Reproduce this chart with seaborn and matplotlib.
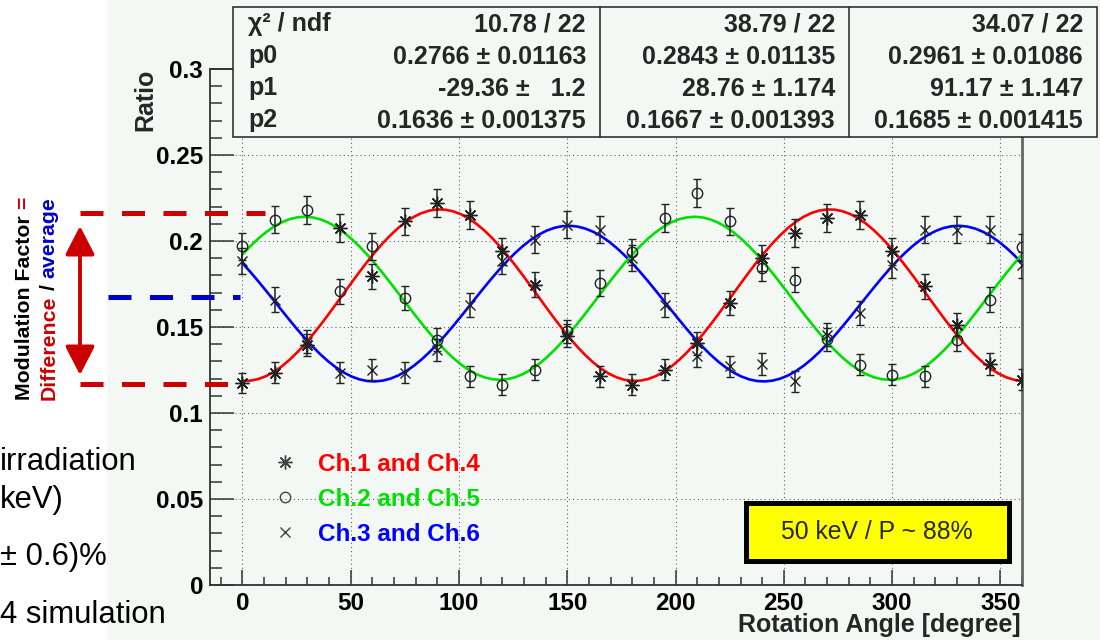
import numpy as np
import pandas as pd
import matplotlib
matplotlib.use("Agg")
import matplotlib.pyplot as plt
import seaborn as sns
from matplotlib.patches import Rectangle, FancyArrowPatch, ArrowStyle
from matplotlib.lines import Line2D
from matplotlib.ticker import MultipleLocator, FuncFormatter

# ---------------- data ----------------
angles = [0, 15, 30, 45, 60, 75, 90, 105, 120, 135, 150, 165, 180,
          195, 210, 225, 240, 255, 270, 285, 300, 315, 330, 345, 360]

ratio_ch14 = [0.1174, 0.1233, 0.1397, 0.2076, 0.1795, 0.2114, 0.2221, 0.2153, 0.1940,
              0.1746, 0.1450, 0.1213, 0.1165, 0.1252, 0.1405, 0.1640, 0.1900, 0.2047,
              0.2134, 0.2153, 0.1940, 0.1736, 0.1514, 0.1285, 0.1194]
err_ch14 = [0.0060, 0.0061, 0.0065, 0.0079, 0.0074, 0.0080, 0.0082, 0.0081, 0.0077,
            0.0073, 0.0066, 0.0061, 0.0059, 0.0062, 0.0065, 0.0070, 0.0076, 0.0079,
            0.0080, 0.0081, 0.0077, 0.0073, 0.0068, 0.0062, 0.0060]

ratio_ch25 = [0.1969, 0.2124, 0.2180, 0.1707, 0.1969, 0.1669, 0.1426, 0.1213, 0.1165,
              0.1252, 0.1475, 0.1756, 0.1936, 0.2134, 0.2279, 0.2114, 0.1843, 0.1775,
              0.1428, 0.1281, 0.1223, 0.1213, 0.1426, 0.1659, 0.1963]
err_ch25 = [0.0077, 0.0080, 0.0081, 0.0072, 0.0077, 0.0071, 0.0066, 0.0061, 0.0059,
            0.0062, 0.0067, 0.0073, 0.0077, 0.0080, 0.0083, 0.0080, 0.0075, 0.0073,
            0.0066, 0.0062, 0.0061, 0.0061, 0.0066, 0.0071, 0.0077]

ratio_ch36 = [0.1882, 0.1659, 0.1415, 0.1233, 0.1252, 0.1233, 0.1368, 0.1630, 0.1882,
              0.2008, 0.2095, 0.2066, 0.1900, 0.1630, 0.1330, 0.1271, 0.1285, 0.1184,
              0.1455, 0.1581, 0.1862, 0.2066, 0.2066, 0.2066, 0.1862]
err_ch36 = [0.0075, 0.0071, 0.0065, 0.0061, 0.0062, 0.0061, 0.0064, 0.0070, 0.0075,
            0.0078, 0.0080, 0.0079, 0.0076, 0.0070, 0.0063, 0.0062, 0.0062, 0.0060,
            0.0066, 0.0069, 0.0075, 0.0079, 0.0079, 0.0079, 0.0075]

series_labels = ["Ch.1 and Ch.4", "Ch.2 and Ch.5", "Ch.3 and Ch.6"]

# fit results (stat boxes, left to right) : f = p2*(1+p0*cos(2(x-p1)))
fit_series = ["Ch.3 and Ch.6", "Ch.2 and Ch.5", "Ch.1 and Ch.4"]
p0_vals = [0.2766, 0.2843, 0.2961]
p1_vals = [-29.36, 28.76, 91.17]
p2_vals = [0.1636, 0.1667, 0.1685]
stat_chi2 = ["10.78 / 22", "38.79 / 22", "34.07 / 22"]
stat_p0 = ["0.2766 \u00b1 0.01163", "0.2843 \u00b1 0.01135", "0.2961 \u00b1 0.01086"]
stat_p1 = ["-29.36 \u00b1   1.2", "28.76 \u00b1 1.174", "91.17 \u00b1 1.147"]
stat_p2 = ["0.1636 \u00b1 0.001375", "0.1667 \u00b1 0.001393", "0.1685 \u00b1 0.001415"]
stat_names = ["\u03c7\u00b2 / ndf", "p0", "p1", "p2"]

x_ticks = [0, 50, 100, 150, 200, 250, 300, 350]
y_ticks = [0, 0.05, 0.1, 0.15, 0.2, 0.25, 0.3]

# ---------------- style ----------------
W, H = 1100, 640
BG = "#f3f8f5"
sns.set_theme(style="ticks")
plt.rcParams["font.family"] = ["Liberation Sans", "DejaVu Sans"]
plt.rcParams["axes.unicode_minus"] = False

fig = plt.figure(figsize=(W / 100, H / 100), dpi=100, facecolor=BG)


def fx(px):
    return px / W


def fy(py):
    return 1 - py / H


# white slide strip on left
fig.patches.append(Rectangle((0, 0), fx(107), 1, transform=fig.transFigure,
                             facecolor="white", edgecolor="none", zorder=0))

ax = fig.add_axes([fx(210), fy(585), fx(1022) - fx(210), fy(69) - fy(585)])
ax.set_facecolor(BG)
ax.set_xlim(-15, 360)
ax.set_ylim(0, 0.3)

# grid
ax.set_axisbelow(True)
ax.grid(True, which="major", color="#555555", linestyle=(0, (1, 3)), linewidth=0.75)

# fit curves
fit_x = np.linspace(0, 360, 101)
fit_rows = []
for name, a, ph, m in zip(fit_series, p0_vals, p1_vals, p2_vals):
    yv = m * (1 + a * np.cos(np.deg2rad(2 * (fit_x - ph))))
    fit_rows.append(pd.DataFrame({"angle": fit_x, "ratio": yv, "series": name}))
fit_df = pd.concat(fit_rows, ignore_index=True)
palette = {"Ch.1 and Ch.4": "#ff0000", "Ch.2 and Ch.5": "#00e000", "Ch.3 and Ch.6": "#0000ff"}
sns.lineplot(data=fit_df, x="angle", y="ratio", hue="series", palette=palette,
             estimator=None, sort=True, linewidth=1.9, legend=False, ax=ax, zorder=2)

# data points
mk_color = "#222222"
marker_specs = [((8, 2, 0), 10), ("o", 7.5), ("x", 6.5)]
for vals, errs, (mk, ms) in zip([ratio_ch14, ratio_ch25, ratio_ch36],
                                [err_ch14, err_ch25, err_ch36], marker_specs):
    ax.errorbar(angles, vals, yerr=errs, linestyle="none", marker=mk, ms=ms,
                mfc="none", mec=mk_color, mew=1.0, ecolor=mk_color, elinewidth=1.1,
                capsize=3, capthick=1.1, zorder=3)

# axes styling
for s in ["left", "bottom"]:
    ax.spines[s].set_color("#333333")
    ax.spines[s].set_linewidth(1.3)
ax.spines["right"].set_color("#666666")
ax.spines["right"].set_linewidth(2.0)
ax.spines["top"].set_color("#333333")
ax.spines["top"].set_linewidth(1.3)

ax.set_xticks(x_ticks)
ax.set_yticks(y_ticks)
ax.xaxis.set_minor_locator(MultipleLocator(10))
ax.yaxis.set_minor_locator(MultipleLocator(0.01))
fmt = FuncFormatter(lambda v, p: "%g" % round(v, 4))
ax.xaxis.set_major_formatter(fmt)
ax.yaxis.set_major_formatter(fmt)
ax.tick_params(axis="both", which="both", direction="in", colors="#333333",
               labelcolor="black", width=1.1)
ax.tick_params(axis="x", which="major", length=11, pad=5, labelsize=17.5)
ax.tick_params(axis="x", which="minor", length=5.5)
ax.tick_params(axis="y", which="major", length=17, pad=5, labelsize=17.5)
ax.tick_params(axis="y", which="minor", length=8.5)
ax.tick_params(top=False, right=False, which="both")
for lab in ax.get_xticklabels() + ax.get_yticklabels():
    lab.set_fontweight("bold")
ax.set_xlabel("")
ax.set_ylabel("")

# axis titles
fig.text(fx(1021), fy(625), "Rotation Angle [degree]", ha="right", va="center",
         fontsize=18, fontweight="bold")
fig.text(fx(145), fy(69), "Ratio", ha="center", va="top", rotation=90,
         fontsize=18, fontweight="bold")

# legend
handles = [Line2D([], [], linestyle="none", marker=mk, ms=ms, mfc="none", mec="#444444",
                  mew=1.0) for mk, ms in marker_specs]
leg = ax.legend(handles, series_labels, loc="upper left", bbox_to_anchor=(fx(273), fy(453)),
                bbox_transform=fig.transFigure, frameon=False, borderpad=0, borderaxespad=0,
                handlelength=1.0, handletextpad=0.85, labelspacing=0.49,
                prop={"family": "Liberation Sans", "weight": "bold", "size": 17.5},
                labelcolor=[palette[s] for s in series_labels])

# stat boxes
box_left, box_top, box_bot, box_right = 233, 7, 137, 1097
dividers = [233, 600, 849, 1097]
fig.patches.append(Rectangle((fx(box_left), fy(box_bot)), fx(box_right) - fx(box_left),
                             fy(box_top) - fy(box_bot), transform=fig.transFigure,
                             facecolor=BG, edgecolor="#222222", linewidth=1.1, zorder=4))
for dv in dividers[1:-1]:
    fig.lines.append(Line2D([fx(dv), fx(dv)], [fy(box_top), fy(box_bot)],
                            transform=fig.transFigure, color="#222222", linewidth=1.1, zorder=5))
baselines = [31.5, 63.5, 95.5, 127.5]
stat_font = dict(fontsize=18, fontweight="bold", va="baseline", zorder=6)
for name, b in zip(stat_names, baselines):
    fig.text(fx(248), fy(b), name, ha="left", **stat_font)
for k in range(3):
    xr = dividers[k + 1] - 14
    for txt, b in zip([stat_chi2[k], stat_p0[k], stat_p1[k], stat_p2[k]], baselines):
        fig.text(fx(xr), fy(b), txt, ha="right", **stat_font)

# yellow info box
fig.patches.append(Rectangle((fx(745.5), fy(560.5)), fx(1008.5) - fx(745.5),
                             fy(502.5) - fy(560.5), transform=fig.transFigure,
                             facecolor="#ffff00", edgecolor="black", linewidth=3.6, zorder=4))
fig.text(fx(877), fy(532), "50 keV / P ~ 88%", ha="center", va="center", fontsize=17.8,
         zorder=6)

# left slide annotation: dashed lines and arrow
RED = "#cc0000"
BLUE = "#0000cc"
dash = (0, (4.6, 3.7))
fig.lines.append(Line2D([fx(80), fx(265)], [fy(213), fy(213)], transform=fig.transFigure,
                        color=RED, linewidth=3.6, linestyle=dash, solid_capstyle="butt",
                        dash_capstyle="butt", zorder=7))
fig.lines.append(Line2D([fx(80), fx(236)], [fy(384), fy(384)], transform=fig.transFigure,
                        color=RED, linewidth=3.6, linestyle=dash, dash_capstyle="butt", zorder=7))
fig.lines.append(Line2D([fx(108), fx(240)], [fy(297), fy(297)], transform=fig.transFigure,
                        color=BLUE, linewidth=3.6, linestyle=dash, dash_capstyle="butt", zorder=7))
arrow = FancyArrowPatch((fx(80), fy(226)), (fx(80), fy(375)), transform=fig.transFigure,
                        arrowstyle=ArrowStyle("<|-|>", head_length=0.7, head_width=0.36),
                        mutation_scale=25, color=RED, linewidth=2.8, shrinkA=0, shrinkB=0,
                        zorder=7)
fig.patches.append(arrow)

# rotated multi-colour text
renderer = fig.canvas.get_renderer()
tfont = dict(fontsize=15.3, fontweight="bold", rotation=90, ha="center")
y0 = 400  # start (bottom) in px from top


def length_px(s):
    t = fig.text(0, 0, s, **tfont)
    bb = t.get_window_extent(renderer)
    t.remove()
    return bb.height


L1 = length_px("Modulation Factor =")
fig.text(fx(24), fy(y0), "Modulation Factor", va="bottom", color="black", **tfont)
fig.text(fx(24), fy(y0 - L1), "=", va="top", color=RED, **tfont)

L2 = length_px("Difference / average")
la = length_px("Difference")
lc = length_px("average")
fig.text(fx(49), fy(y0), "Difference", va="bottom", color=RED, **tfont)
fig.text(fx(49), fy(y0 - L2), "average", va="top", color=BLUE, **tfont)
fig.text(fx(49), fy(y0 - la - (L2 - la - lc) / 2), "/", va="center", color="black", **tfont)

# clipped slide text on the far left
slide_font = dict(fontsize=22.3, ha="left", va="baseline", color="black")
fig.text(fx(0), fy(470), "irradiation", **slide_font)
fig.text(fx(0), fy(508), "keV)", **slide_font)
fig.text(fx(0), fy(565), "\u00b1 0.6)%", **slide_font)
fig.text(fx(0), fy(623), "4 simulation", **slide_font)

fig.savefig("out.png", dpi=100, facecolor=BG)
